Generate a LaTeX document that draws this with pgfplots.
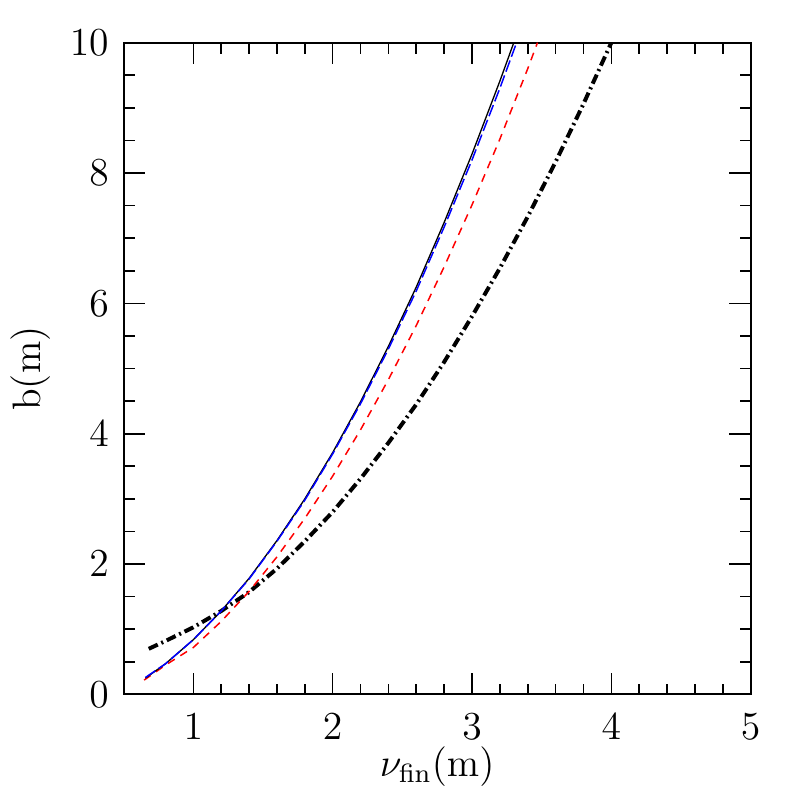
\documentclass[border=0pt]{standalone}
\usepackage{pgfplots}
\pgfplotsset{compat=1.18}
\usetikzlibrary{calc}

\begin{document}
\begin{tikzpicture}
\begin{axis}[
    name=ax,
    scale only axis,
    width=189.6pt,
    height=197.1pt,
    xmin=0.5, xmax=5,
    ymin=0, ymax=10,
    xtick={1,2,3,4,5},
    ytick={0,2,4,6,8,10},
    minor x tick num=4,
    minor y tick num=3,
    tick align=inside,
    major tick length=6.6pt,
    minor tick length=3.3pt,
    every tick/.style={black, line width=0.5pt},
    axis line style={line width=0.6pt},
    tick label style={font=\large},
    label style={font=\large},
    xticklabel style={yshift=-2.5pt},
    yticklabel style={xshift=-1pt},
    xlabel={$\nu_{\rm fin}(\rm m)$},
    ylabel={b(m)},
    xlabel style={at={(axis description cs:0.5,-0.11)}, anchor=center},
    ylabel style={at={(axis description cs:-0.148,0.5)}, anchor=center},
    clip=true,
]
% dash-dot, thick
\addplot[black, line width=1.2pt, dash pattern=on 3pt off 1.2pt on 0.6pt off 1.2pt] coordinates {
    (0.68,0.70) (0.8,0.82) (1.0,1.03) (1.2,1.28) (1.4,1.57) (1.6,1.93)
    (1.8,2.35) (2.0,2.80) (2.2,3.31) (2.4,3.86) (2.6,4.45) (2.8,5.10)
    (3.0,5.80) (3.2,6.54) (3.4,7.33) (3.6,8.17) (3.8,9.06) (4.0,10.0)
};
% red dashed
\addplot[red, line width=0.45pt, dash pattern=on 2.4pt off 2pt] coordinates {
    (0.647,0.22) (0.8,0.45) (1.0,0.72) (1.2,1.12) (1.4,1.58) (1.6,2.11)
    (1.8,2.70) (2.0,3.35) (2.2,4.06) (2.4,4.83) (2.6,5.66) (2.8,6.56)
    (3.0,7.51) (3.2,8.52) (3.4,9.60) (3.47,10.0)
};
% black solid
\addplot[black, line width=0.4pt] coordinates {
    (0.656,0.25) (0.8,0.47) (1.0,0.84) (1.2,1.28) (1.4,1.78) (1.6,2.36)
    (1.8,3.00) (2.0,3.71) (2.2,4.49) (2.4,5.34) (2.6,6.25) (2.8,7.24)
    (3.0,8.29) (3.2,9.41) (3.30,10.0)
};
% blue long dashed
\addplot[blue, line width=0.45pt, dash pattern=on 3.6pt off 1.2pt] coordinates {
    (0.656,0.26) (0.8,0.47) (1.0,0.84) (1.2,1.28) (1.4,1.77) (1.6,2.35)
    (1.8,2.98) (2.0,3.69) (2.2,4.46) (2.4,5.30) (2.6,6.19) (2.8,7.17)
    (3.0,8.20) (3.2,9.30) (3.32,10.0)
};
\end{axis}
\path[use as bounding box] ($(ax.south west)+(-36.9pt,-29.1pt)$) rectangle ($(ax.south west)+(202.2pt,210pt)$);
\end{tikzpicture}
\end{document}
